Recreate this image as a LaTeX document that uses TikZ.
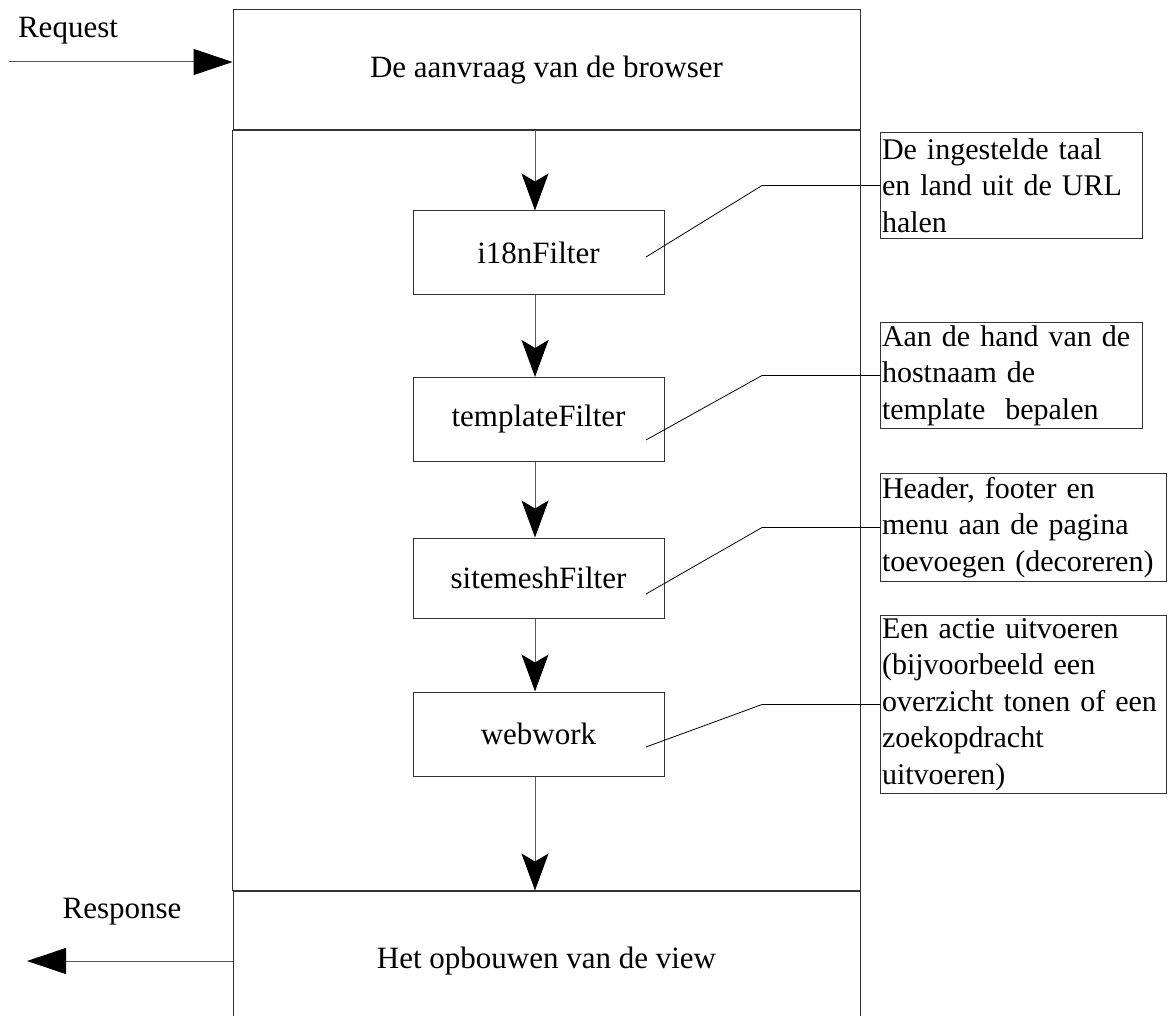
\documentclass[tikz,border=0pt]{standalone}
\usepackage{fontspec}
\setmainfont{Liberation Serif}
\usetikzlibrary{arrows.meta}

\begin{document}
\begin{tikzpicture}[x=1pt,y=-1pt,
  every node/.style={font=\fontsize{31}{36}\selectfont},
  section/.style={draw=black!80,line width=1pt,minimum width=627pt},
  filterbox/.style={draw=black!80,line width=1pt,minimum width=251pt,minimum height=84pt},
  note/.style={draw=black!80,line width=1pt,anchor=north west,align=left,
    inner xsep=1.5pt,inner ysep=1pt,font=\fontsize{30}{36.5}\selectfont},
  flow/.style={draw=black!65,line width=1pt,-{Stealth[length=37pt,width=27pt,inset=8pt,black]}},
  io/.style={draw=black!65,line width=1pt,-{Triangle[length=39pt,width=26pt,black]}},
  leader/.style={draw=black,line width=0.8pt}]

\useasboundingbox (0,0) rectangle (1175,1016);

% browser and view
\node[section,minimum height=120pt] (browser) at (546.5,70) {De aanvraag van de browser};
\node[section,minimum height=140pt] (view) at (546.5,961) {Het opbouwen van de view};
\draw[draw=black!80,line width=1pt] (browser.south west) rectangle (view.north east);

% filters
\node[filterbox] (i18n) at (538.5,253) {i18nFilter};
\node[filterbox] (template) at (538.5,419.5) {templateFilter};
\node[filterbox,minimum height=80pt] (sitemesh) at (538.5,578) {sitemeshFilter};
\node[filterbox] (webwork) at (538.5,734) {webwork};

\coordinate (spine) at (535,0);
\draw[flow] (browser.south -| spine) -- (i18n.north -| spine);
\foreach \a/\b in {i18n/template,template/sitemesh,sitemesh/webwork}
  \draw[flow] (\a.south -| spine) -- (\b.north -| spine);
\draw[flow] (webwork.south -| spine) -- (view.north -| spine);

% request / response
\node (request) at (68,31) {Request};
\coordinate (reqstart) at (9,62);
\draw[io] (reqstart) -- (reqstart -| browser.west);
\node (response) at (122,912) {Response};
\coordinate (respend) at (27,961);
\draw[io] (view.west) -- (respend);

% notes
\node[note,text width=259pt,minimum height=106pt] (taal) at (880,132) {De ingestelde taal\\en land uit de URL\\halen};
\node[note,text width=259pt,minimum height=106pt] (host) at (880,322) {Aan de hand van de\\hostnaam de\\template\ \ bepalen};
\node[note,text width=283pt,minimum height=108pt] (deco) at (880,473) {Header, footer en\\menu aan de pagina\\toevoegen (decoreren)};
\node[note,text width=283pt,minimum height=178pt] (actie) at (880,615) {Een actie uitvoeren\\(bijvoorbeeld een\\overzicht tonen of een\\zoekopdracht\\uitvoeren)};

\coordinate (elbow) at (762,0);
\foreach \f/\y/\n in {i18n/257/taal,template/440/host,sitemesh/594/deco,webwork/747/actie} {
  \coordinate (\f-pin) at (646,\y);
  \draw[leader] (\f-pin) -- (\n.west -| elbow) -- (\n.west);
}

\end{tikzpicture}
\end{document}
